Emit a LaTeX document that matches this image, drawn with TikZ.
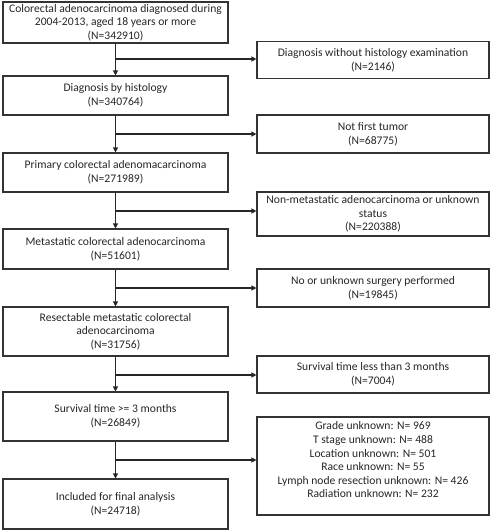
\documentclass[tikz,border=0pt]{standalone}
\usepackage{fontspec}
\setmainfont{Carlito}
\usetikzlibrary{arrows.meta}
\tikzset{
  box/.style={draw=black!80, line width=1.1pt, align=center, inner sep=0pt,
    font=\fontsize{11.6}{13.6}\selectfont, text=black!85},
  lbox/.style={box, minimum width=225pt},
  rbox/.style={box, minimum width=232pt},
  arr/.style={draw=black!85, line width=1.1pt, -{Triangle[length=5pt,width=5pt]}},
  ln/.style={draw=black!85, line width=1.1pt}
}
\begin{document}
\begin{tikzpicture}[x=1pt,y=-1pt]
\useasboundingbox (0,0) rectangle (493,532);
% left column
\node[lbox, minimum height=41pt] (L1) at (115.5,22.5) {Colorectal adenocarcinoma diagnosed during\\2004-2013, aged 18 years or more\\(N=342910)};
\node[lbox, minimum height=39pt] (L2) at (115.5,95.5) {Diagnosis by histology\\(N=340764)};
\node[lbox, minimum height=39pt] (L3) at (115.5,172.5) {Primary colorectal adenomacarcinoma\\(N=271989)};
\node[lbox, minimum height=40pt] (L4) at (115.5,249) {Metastatic colorectal adenocarcinoma\\(N=51601)};
\node[lbox, minimum height=49pt] (L5) at (115.5,331.5) {Resectable metastatic colorectal\\adenocarcinoma\\(N=31756)};
\node[lbox, minimum height=49pt] (L6) at (115.5,416.5) {Survival time >= 3 months\\(N=26849)};
\node[lbox, minimum height=50pt] (L7) at (115.5,504) {Included for final analysis\\(N=24718)};
% right column
\node[rbox, minimum height=37pt] (R1) at (373,60) {Diagnosis without histology examination\\(N=2146)};
\node[rbox, minimum height=38pt] (R2) at (373,134) {Not first tumor\\(N=68775)};
\node[rbox, minimum height=44pt] (R3) at (373,214) {Non-metastatic adenocarcinoma or unknown\\status\\(N=220388)};
\node[rbox, minimum height=38pt] (R4) at (373,288) {No or unknown surgery performed\\(N=19845)};
\node[rbox, minimum height=37pt] (R5) at (373,374.5) {Survival time less than 3 months\\(N=7004)};
\node[rbox, minimum height=98pt] (R6) at (373,466) {};
\node[box, draw=none] (R6t) at (373,460) {Grade unknown: N= 969\\T stage unknown: N= 488\\Location unknown: N= 501\\Race unknown: N= 55\\Lymph node resection unknown: N= 426\\Radiation unknown: N= 232};
% branch points
\coordinate (b1) at (115.5,59);
\coordinate (b2) at (115.5,134);
\coordinate (b3) at (115.5,211);
\coordinate (b4) at (115.5,288);
\coordinate (b5) at (115.5,375);
\coordinate (b6) at (115.5,460);
% vertical arrows
\draw[arr] (L1.south) -- (L2.north);
\draw[arr] (L2.south) -- (L3.north);
\draw[arr] (L3.south) -- (L4.north);
\draw[arr] (L4.south) -- (L5.north);
\draw[arr] (L5.south) -- (L6.north);
\draw[arr] (L6.south) -- (L7.north);
% side arrows
\draw[arr] (b1) -- (b1 -| R1.west);
\draw[arr] (b2) -- (b2 -| R2.west);
\draw[arr] (b3) -- (b3 -| R3.west);
\draw[arr] (b4) -- (b4 -| R4.west);
\draw[arr] (b5) -- (b5 -| R5.west);
\draw[arr] (b6) -- (b6 -| R6.west);
\end{tikzpicture}
\end{document}
